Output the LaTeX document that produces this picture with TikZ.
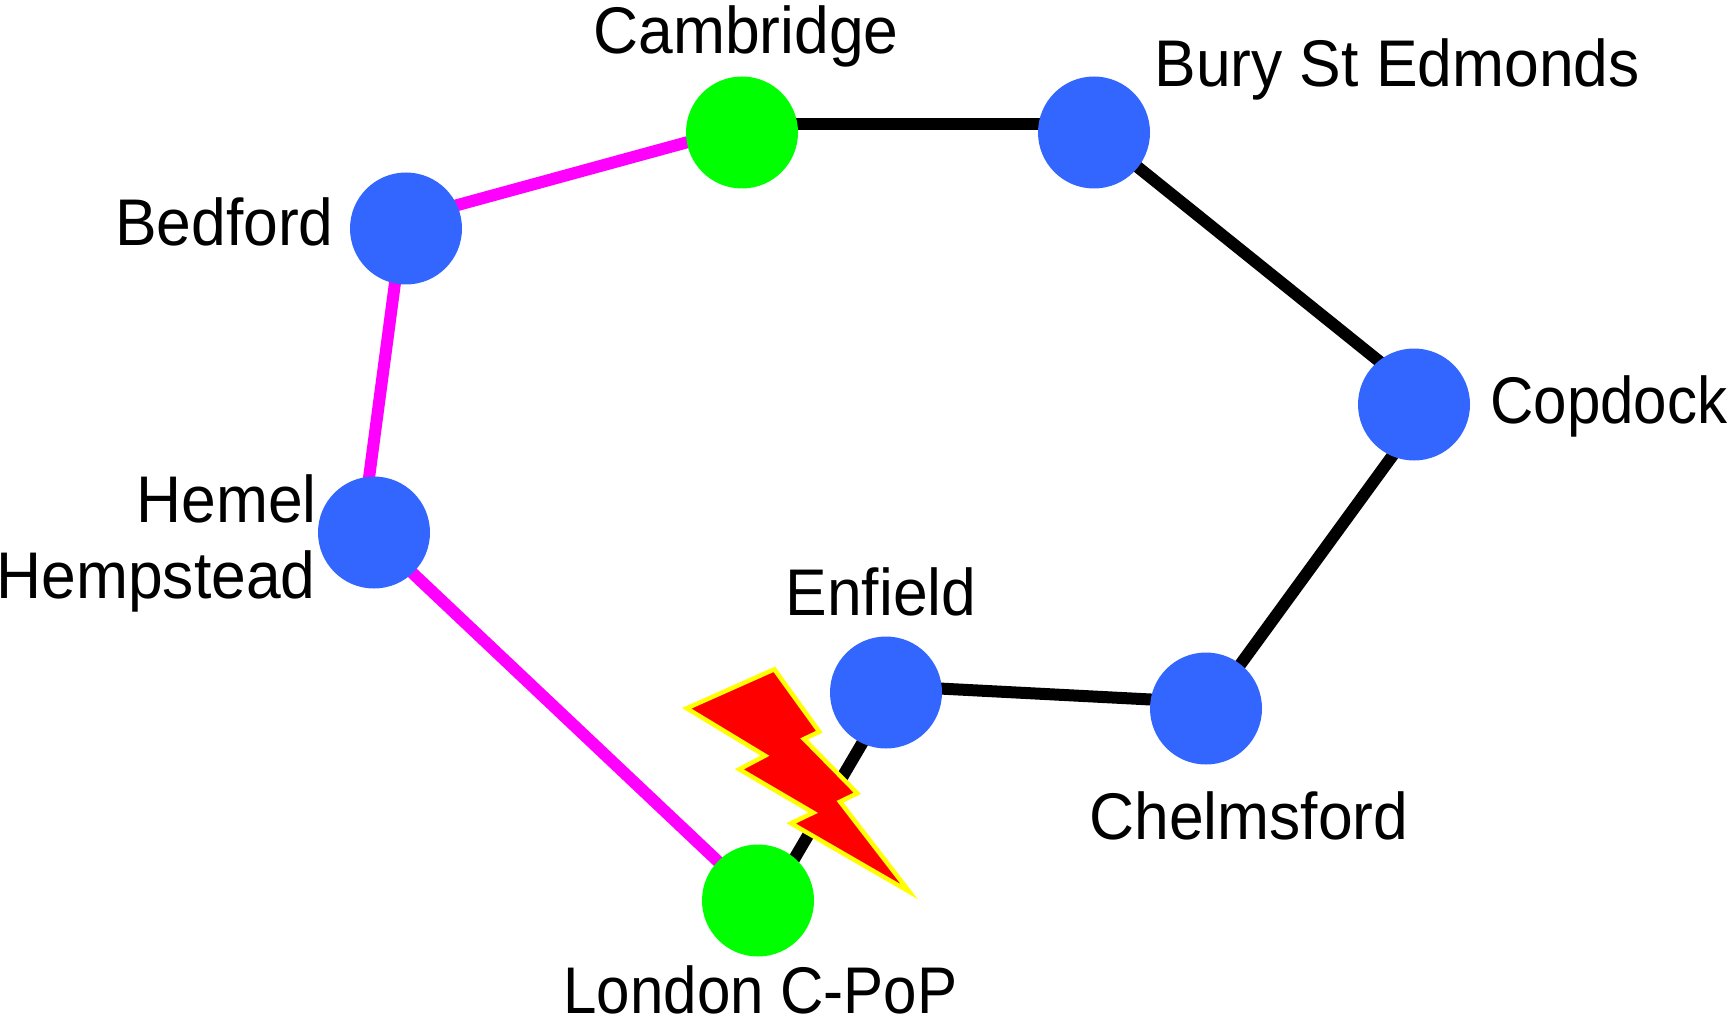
\documentclass[tikz,border=0pt]{standalone}
\usepackage{fontspec}
\setmainfont[FakeStretch=0.945]{Liberation Sans}
\newfontfamily\narrowlabel[FakeStretch=0.91]{Liberation Sans}
\usetikzlibrary{backgrounds}
\definecolor{nodeblue}{RGB}{51,102,255}
\definecolor{nodegreen}{RGB}{0,255,0}
\definecolor{linkpink}{RGB}{255,0,255}
\definecolor{boltyellow}{RGB}{255,255,0}
\tikzset{
  x=0.5pt,y=-0.5pt,
  site/.style={circle,inner sep=0pt,minimum size=56pt,fill=nodeblue},
  hub/.style={site,fill=nodegreen},
  link/.style={line width=6pt,black},
  altlink/.style={link,draw=linkpink},
  lbl/.style={font=\fontsize{33}{38}\selectfont,inner sep=0pt,text=black},
}
\begin{document}
\begin{tikzpicture}
\useasboundingbox (0,0) rectangle (1734,1016);
\node[hub] (cam) at (742,132.5) {};
\node[site] (bury) at (1094,132.5) {};
\node[site] (bed) at (406,228.5) {};
\node[site] (hem) at (374,532.5) {};
\node[site] (cop) at (1414,404.5) {};
\node[site] (che) at (1206,708.5) {};
\node[site] (enf) at (886,692.5) {};
\node[hub] (lon) at (758,900.5) {};
\begin{scope}[on background layer]
\draw[altlink] ([shift={(40,-20.3)}]bed.center) -- ([shift={(-44,6.8)}]cam.center);
\draw[altlink] ([shift={(-8.3,34)}]bed.center) -- ([shift={(-8,-32)}]hem.center);
\draw[altlink] ([shift={(21,24)}]hem.center) -- ([shift={(-23,-23)}]lon.center);
\draw[link] ([shift={(30,-8)}]cam.center) -- ([shift={(-30,-8)}]bury.center);
\draw[link] ([shift={(26,20.3)}]bury.center) -- ([shift={(-19,-30.5)}]cop.center);
\draw[link] ([shift={(-9,34)}]cop.center) -- ([shift={(19,-23)}]che.center);
\draw[link] ([shift={(-36,-8)}]che.center) -- ([shift={(34,-5)}]enf.center);
\draw[link] ([shift={(-10.5,28)}]enf.center) -- ([shift={(23.5,-20)}]lon.center);
\end{scope}
\draw[fill=red,draw=boltyellow,line width=2.2pt,miter limit=20]
 (774.3,669.3) -- (819.3,731.7) -- (804,739) -- (857.3,793.3) -- (840,801.7) -- (909.3,891.7)
 -- (791,823.3) -- (813.3,812.7) -- (739.3,769.3) -- (765,755.7) -- (686.7,708.3) -- cycle;
\node[lbl,anchor=base] (tcam) at (746,54) {Cambridge};
\node[lbl,anchor=base west] (tbury) at (1154,87) {Bury St Edmonds};
\node[lbl,anchor=base east] (tbed) at (334,246) {Bedford};
\node[lbl,anchor=base east] (them) at (317,522) {Hemel};
\node[lbl,anchor=base east] (thmp) at (316,598) {Hempstead};
\node[lbl,anchor=base west] (tcop) at (1490,423) {\narrowlabel Copdock};
\node[lbl,anchor=base] (tenf) at (881,615) {Enfield};
\node[lbl,anchor=base] (tche) at (1249,839) {Chelmsford};
\node[lbl,anchor=base] (tlon) at (760.5,1013) {\narrowlabel London C-PoP};
\end{tikzpicture}
\end{document}
